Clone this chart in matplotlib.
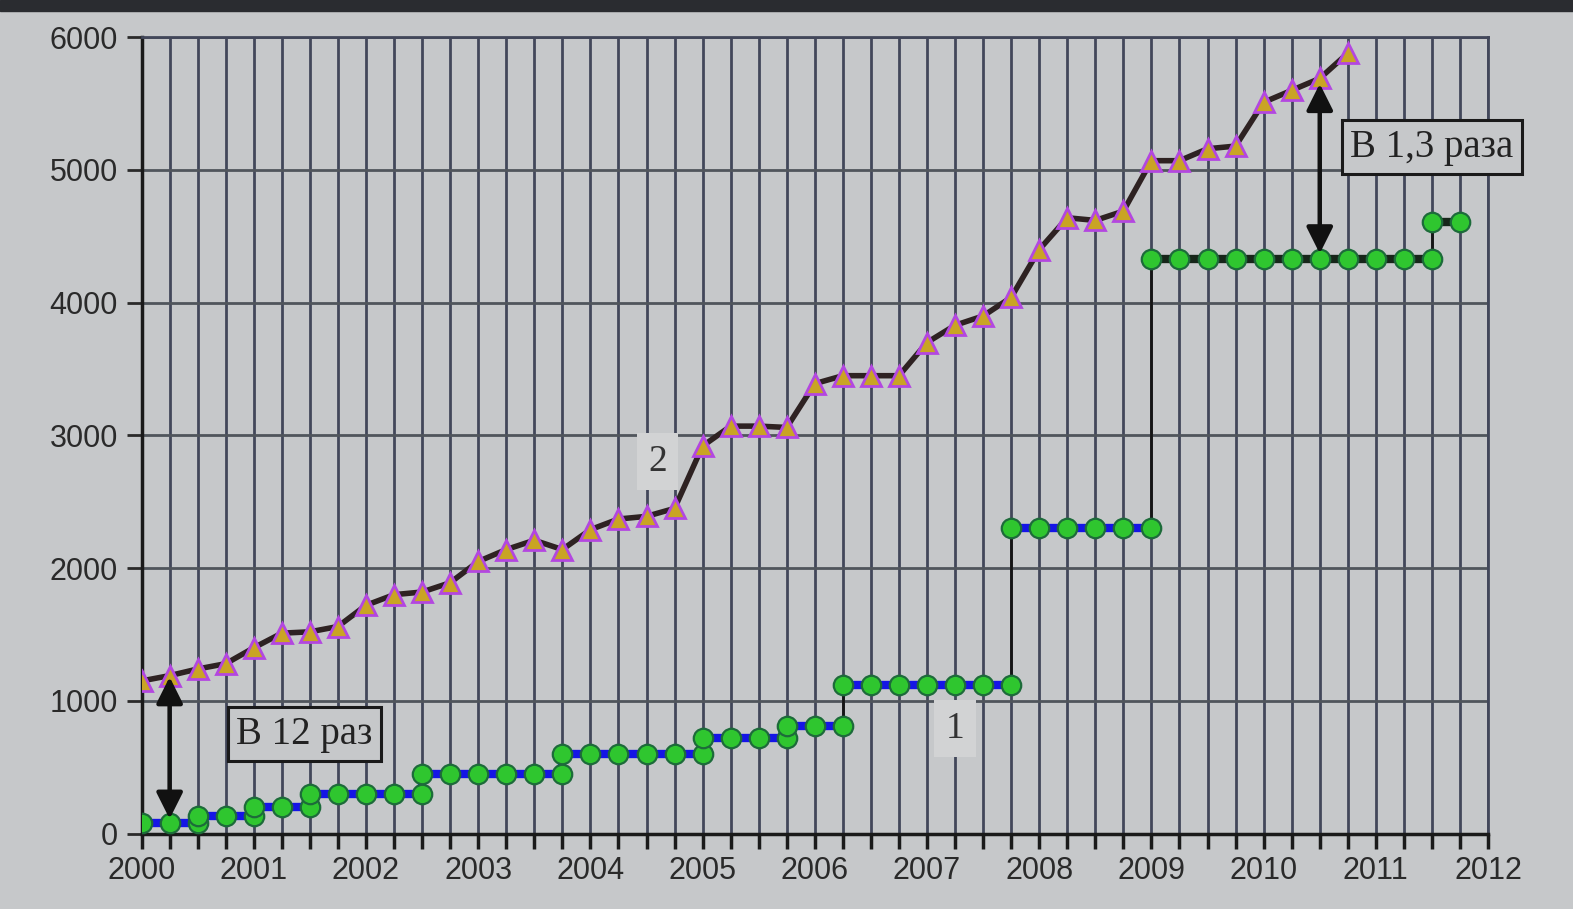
import numpy as np
import matplotlib
matplotlib.use("Agg")
import matplotlib.pyplot as plt
from matplotlib.patches import Rectangle

# ---------------- data ----------------
# Series 2 (triangles), quarterly values
s2_x = [2000.0 + 0.25 * i for i in range(44)]
s2_y = [1150, 1190, 1240, 1280, 1400, 1510, 1520, 1560,
        1720, 1800, 1820, 1890, 2050, 2140, 2210, 2140,
        2290, 2370, 2390, 2450, 2920, 3070, 3070, 3060,
        3390, 3450, 3450, 3450, 3700, 3830, 3900, 4040,
        4400, 4640, 4620, 4690, 5070, 5070, 5160, 5180,
        5510, 5600, 5690, 5880]

# Series 1 (circles), step segments
s1_start = [2000.0, 2000.5, 2001.0, 2001.5, 2002.5, 2003.75, 2005.0, 2005.75, 2006.25, 2007.75, 2009.0, 2011.5]
s1_end   = [2000.5, 2001.0, 2001.5, 2002.5, 2003.75, 2005.0, 2005.75, 2006.25, 2007.75, 2009.0, 2011.5, 2011.75]
s1_value = [83, 132, 200, 300, 450, 600, 720, 810, 1120, 2300, 4330, 4611]

year_ticks = list(range(2000, 2013))
y_ticks = [0, 1000, 2000, 3000, 4000, 5000, 6000]

label1 = "В 12 раз"
label2 = "В 1,3 раза"
arrow1 = (2000.25, 1180, 110)
arrow2 = (2010.5, 5650, 4370)

# ---------------- style ----------------
BG = "#c6c8ca"
GRID = "#42475a"
fig = plt.figure(figsize=(15.73, 9.09), dpi=100, facecolor=BG)
fig.patches.append(Rectangle((0, 0.988), 1, 0.012, transform=fig.transFigure,
                             color="#2a2c30", zorder=0))
ax = fig.add_axes([0.090, 0.083, 0.856, 0.876])
ax.set_facecolor(BG)

ax.set_xlim(2000, 2012)
ax.set_ylim(0, 6000)
ax.set_xticks(year_ticks)
ax.set_xticklabels([str(y) for y in year_ticks])
ax.set_xticks(np.arange(2000, 2012.001, 0.25), minor=True)
ax.set_yticks(y_ticks)
ax.set_yticklabels([str(v) for v in y_ticks])

ax.grid(which="both", axis="x", color=GRID, lw=2.0, zorder=1)
ax.grid(which="major", axis="y", color="#50555c", lw=2.0, zorder=1)
ax.set_axisbelow(True)

for side in ["top", "right"]:
    ax.spines[side].set_color(GRID)
    ax.spines[side].set_linewidth(2.0)
for side in ["left", "bottom"]:
    ax.spines[side].set_color("#1a1a1a")
    ax.spines[side].set_linewidth(2.5)

ax.tick_params(axis="x", which="both", direction="out", length=11, width=2.5,
               color="#1a1a1a", labelsize=22, labelcolor="#2a2a2a", pad=5)
ax.tick_params(axis="y", which="major", direction="out", length=11, width=2.0,
               color="#2a2a2a", labelsize=22, labelcolor="#2a2a2a", pad=6)
for lab in ax.get_xticklabels() + ax.get_yticklabels():
    lab.set_fontfamily("Liberation Sans")

# Series 1: steps
line_colors = ["#1515e6"] * 10 + ["#17261a"] * 2
for i in range(len(s1_value)):
    xs = np.arange(s1_start[i], s1_end[i] + 1e-9, 0.25)
    ax.plot(xs, [s1_value[i]] * len(xs), color=line_colors[i], lw=6.0,
            marker="o", ms=14, mfc="#2fc62f", mec="#1d6b3a", mew=1.6,
            zorder=4, solid_capstyle="butt")
    if i > 0:
        jump = s1_value[i] - s1_value[i - 1]
        if jump > 250:
            ax.plot([s1_start[i], s1_start[i]], [s1_value[i - 1], s1_value[i]],
                    color="#151515", lw=2.0, zorder=3)
        else:
            ax.plot([s1_start[i], s1_start[i]], [s1_value[i - 1], s1_value[i]],
                    color=line_colors[i], lw=6.0, zorder=3)

# Series 2
ax.plot(s2_x, s2_y, color="#2e2222", lw=4.0, zorder=5,
        marker="^", ms=14, mfc="#c9a424", mec="#b347e0", mew=2.0)

# Arrows
for (xa, ytop, ybot) in [arrow1, arrow2]:
    ax.annotate("", xy=(xa, ybot), xytext=(xa, ytop),
                arrowprops=dict(arrowstyle="<|-|>", color="#111111", lw=3.2,
                                mutation_scale=40, shrinkA=0, shrinkB=0),
                zorder=6)

serif = ["Liberation Serif", "DejaVu Serif"]
ax.text(2001.45, 750, label1, fontsize=28, family=serif, color="#222222",
        ha="center", va="center", zorder=7,
        bbox=dict(boxstyle="square,pad=0.22", fc=BG, ec="#1a1a1a", lw=2.2))
ax.text(2011.5, 5170, label2, fontsize=28, family=serif, color="#222222",
        ha="center", va="center", zorder=7, clip_on=False,
        bbox=dict(boxstyle="square,pad=0.22", fc=BG, ec="#1a1a1a", lw=2.2))

ax.text(2004.6, 2800, "2", fontsize=27, family=serif, color="#333333",
        ha="center", va="center", zorder=6,
        bbox=dict(boxstyle="square,pad=0.3", fc="#d2d3d4", ec="none"))
ax.text(2007.25, 790, "1", fontsize=27, family=serif, color="#333333",
        ha="center", va="center", zorder=6,
        bbox=dict(boxstyle="square,pad=0.3", fc="#d2d3d4", ec="none"))

fig.savefig("out.png", dpi=100, facecolor=BG)
